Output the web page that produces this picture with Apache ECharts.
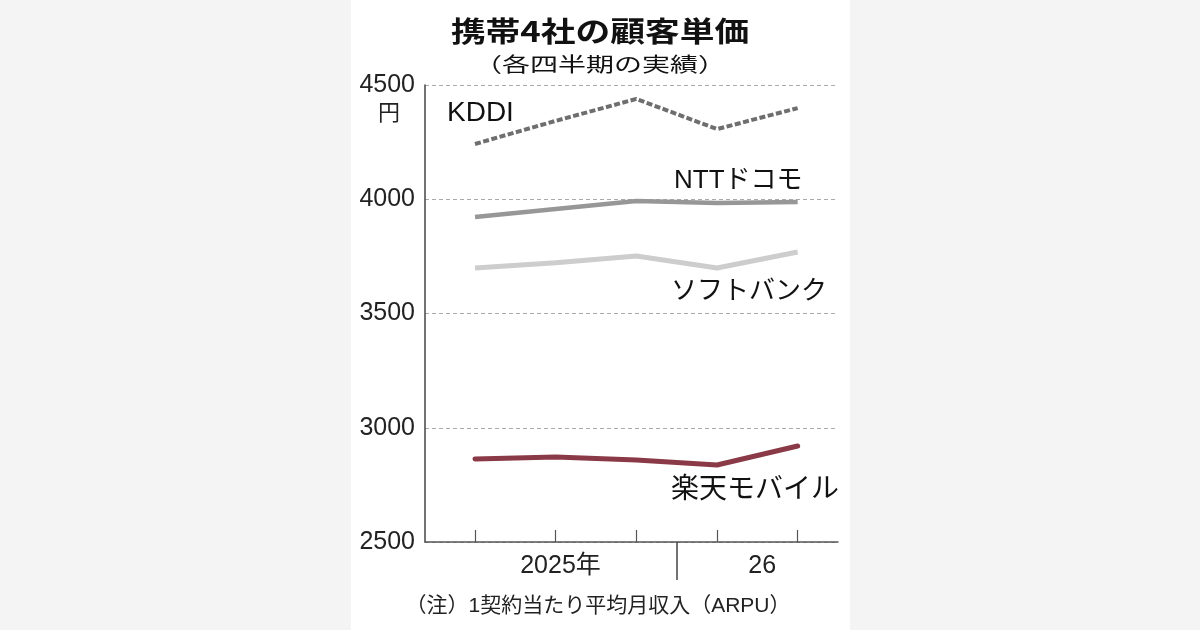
<!DOCTYPE html>
<html>
<head>
<meta charset="utf-8">
<script src="https://cdn.jsdelivr.net/npm/echarts@6/dist/echarts.min.js"></script>
<style>
  html, body { margin: 0; padding: 0; background: #f4f4f4; }
  #panel { position: absolute; left: 351px; top: 0; width: 499px; height: 630px; background: #fff; }
  #main { position: absolute; left: 0; top: 0; width: 1200px; height: 630px; }
</style>
</head>
<body>
<div id="panel"></div>
<div id="main"></div>
<script>
// 各四半期（5期分）
const quarters = [0, 1, 2, 3, 4];
const kddi = [4242, 4343, 4439, 4307, 4399];
const docomo = [3922, 3957, 3992, 3984, 3988];
const softbank = [3699, 3722, 3752, 3699, 3769];
const rakuten = [2863, 2872, 2859, 2837, 2920];

// 年の区切り
const yearLabels = ['2025年', '26'];
const yearStart = [0, 3];

const yTicks = [2500, 3000, 3500, 4000, 4500];

const numFont = '"Liberation Sans", "Noto Sans CJK JP", sans-serif';
const jpFont = '"Liberation Sans", "Noto Sans CJK JP", sans-serif';

// 年ラベルの位置と区切り線の位置
const yearCenters = yearStart.map((s, i) => {
    const e = i + 1 < yearStart.length ? yearStart[i + 1] - 1 : quarters.length - 1;
    return (s + e) / 2 + 0.06;
});
const dividers = yearStart.slice(1).map(s => s - 0.5);

const pairs = arr => arr.map((v, i) => [quarters[i], v]);

let myChart = echarts.init(document.getElementById('main'));
myChart.setOption({
    animation: false,
    backgroundColor: 'transparent',
    grid: { left: 425, right: 362, top: 85, bottom: 88 },
    xAxis: [{
        type: 'value',
        min: -0.62,
        max: 4.5,
        splitLine: { show: false },
        axisLine: { show: true, onZero: false, lineStyle: { color: '#555', width: 1.5 } },
        axisTick: { show: true, inside: true, length: 12, customValues: quarters, lineStyle: { color: '#555', width: 1.2 } },
        axisLabel: {
            customValues: yearCenters,
            formatter: v => {
                let k = 0;
                yearCenters.forEach((c, i) => { if (Math.abs(c - v) < Math.abs(yearCenters[k] - v)) k = i; });
                return yearLabels[k];
            },
            margin: 12,
            fontFamily: numFont,
            fontSize: 25,
            color: '#222'
        }
    }, {
        type: 'value',
        position: 'bottom',
        min: -0.62,
        max: 4.5,
        splitLine: { show: false },
        axisLine: { show: false, onZero: false },
        axisTick: { show: true, length: 38, customValues: dividers, lineStyle: { color: '#444', width: 1.5 } },
        axisLabel: { show: false }
    }],
    yAxis: {
        type: 'value',
        min: 2500,
        max: 4500,
        interval: 500,
        axisLine: { show: true, onZero: false, lineStyle: { color: '#444', width: 1.5 } },
        axisTick: { show: false },
        splitLine: { show: true, lineStyle: { color: '#aaa', width: 1, type: [4, 3] } },
        axisLabel: {
            margin: 10,
            fontFamily: numFont,
            fontSize: 25,
            color: '#222',
            formatter: v => yTicks.includes(v) ? String(v) : ''
        }
    },
    series: [{
        name: 'KDDI',
        type: 'line',
        data: pairs(kddi),
        showSymbol: false,
        lineStyle: { color: '#6e6e6e', width: 4, type: [6, 2.5] }
    }, {
        name: 'NTTドコモ',
        type: 'line',
        data: pairs(docomo),
        showSymbol: false,
        lineStyle: { color: '#979797', width: 4.5 }
    }, {
        name: 'ソフトバンク',
        type: 'line',
        data: pairs(softbank),
        showSymbol: false,
        lineStyle: { color: '#cdcdcd', width: 5 }
    }, {
        name: '楽天モバイル',
        type: 'line',
        data: pairs(rakuten),
        showSymbol: false,
        lineStyle: { color: '#8a3a47', width: 5, cap: 'round' }
    }],
    graphic: [
        { type: 'text', x: 600, y: 31, scaleX: 1.24, silent: true,
          style: { text: '携帯4社の顧客単価', font: 'bold 28px "Noto Sans CJK JP", sans-serif', fill: '#111', textAlign: 'center', textVerticalAlign: 'middle' } },
        { type: 'text', x: 600, y: 64, scaleX: 1.4, silent: true,
          style: { text: '（各四半期の実績）', font: '20px "Noto Sans CJK JP", sans-serif', fill: '#111', textAlign: 'center', textVerticalAlign: 'middle' } },
        { type: 'text', x: 389, y: 112, silent: true,
          style: { text: '円', font: '22px "Noto Sans CJK JP", sans-serif', fill: '#222', textAlign: 'center', textVerticalAlign: 'middle' } },
        { type: 'text', x: 447, y: 113, silent: true,
          style: { text: 'KDDI', font: '28px ' + jpFont, fill: '#111', textAlign: 'left', textVerticalAlign: 'middle' } },
        { type: 'text', x: 674, y: 181, silent: true,
          style: { text: 'NTTドコモ', font: '26px ' + jpFont, fill: '#111', textAlign: 'left', textVerticalAlign: 'middle' } },
        { type: 'text', x: 671, y: 292, silent: true,
          style: { text: 'ソフトバンク', font: '26px ' + jpFont, fill: '#111', textAlign: 'left', textVerticalAlign: 'middle' } },
        { type: 'text', x: 671, y: 490, silent: true,
          style: { text: '楽天モバイル', font: '28px ' + jpFont, fill: '#111', textAlign: 'left', textVerticalAlign: 'middle' } },
        { type: 'text', x: 598, y: 606, silent: true,
          style: { text: '（注）1契約当たり平均月収入（ARPU）', font: '21px ' + jpFont, fill: '#222', textAlign: 'center', textVerticalAlign: 'middle' } }
    ]
});
</script>
</body>
</html>
